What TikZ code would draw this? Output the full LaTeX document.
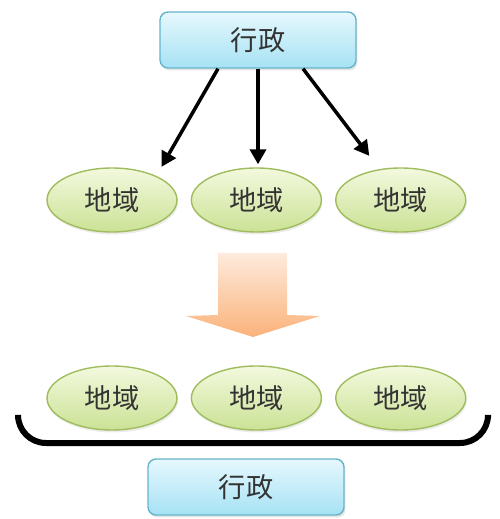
\documentclass[tikz,border=0pt]{standalone}
\usepackage{fontspec}
\newfontfamily\cjk{Noto Sans CJK JP}
\usetikzlibrary{arrows.meta,calc,positioning,shapes,shadows}
\definecolor{boxline}{HTML}{67B4CC}
\definecolor{boxtop}{HTML}{E6F8FD}
\definecolor{boxbottom}{HTML}{A6E2F4}
\definecolor{regionline}{HTML}{A0BD5E}
\definecolor{regiontop}{HTML}{F3F9DE}
\definecolor{regionbottom}{HTML}{CBE295}
\definecolor{shifttop}{HTML}{FDEBDD}
\definecolor{shiftbottom}{HTML}{FBB27A}
\tikzset{
flow/.style={x=0.02cm,y=-0.02cm,font=\cjk\fontsize{15.5}{17}\selectfont,
text=black!80,node distance=0.26cm},
office/.style={rectangle,rounded corners=0.16cm,draw=boxline,thick,
top color=boxtop,bottom color=boxbottom,minimum width=3.92cm,minimum height=1.12cm,
drop shadow={opacity=0.2,shadow xshift=0.03cm,shadow yshift=-0.05cm}},
region/.style={ellipse,draw=regionline,thick,top color=regiontop,
bottom color=regionbottom,minimum width=2.6cm,minimum height=1.28cm,
drop shadow={opacity=0.15,shadow xshift=0.02cm,shadow yshift=-0.05cm}},
order/.style={-{Triangle[length=0.3cm,width=0.32cm]},line width=0.07cm},
}

\begin{document}
\begin{tikzpicture}[flow]
\useasboundingbox (0,0) rectangle (499,519);

% before
\node[office] (top) at (258,40) {行政};
\node[region] (a1) at (112,200) {地域};
\node[region] (a2) [right=of a1] {地域};
\node[region] (a3) [right=of a2] {地域};

\draw[order] ($(top.south)+(-40,0)$) -- ($(a1.north east)+(3,-10)$);
\draw[order] (top.south) -- ($(top.south |- a2.north)+(0,-3)$);
\draw[order] ($(top.south)+(45,0)$) -- ($(a3.north west)+(15,-21)$);

% change
\shade[top color=shifttop,bottom color=shiftbottom]
  (218,253) -- (287,253) -- (287,315) -- (320,316) -- (253,337)
  -- (186,316) -- (218,315) -- cycle;

% after
\node[region] (b1) at (112,398) {地域};
\node[region] (b2) [right=of b1] {地域};
\node[region] (b3) [right=of b2] {地域};

\draw[line width=0.12cm,rounded corners=0.56cm]
  (18,417) -- (18,443) -- (488,443) -- (488,417);

\node[office] (base) at (246,487) {行政};
\end{tikzpicture}
\end{document}
